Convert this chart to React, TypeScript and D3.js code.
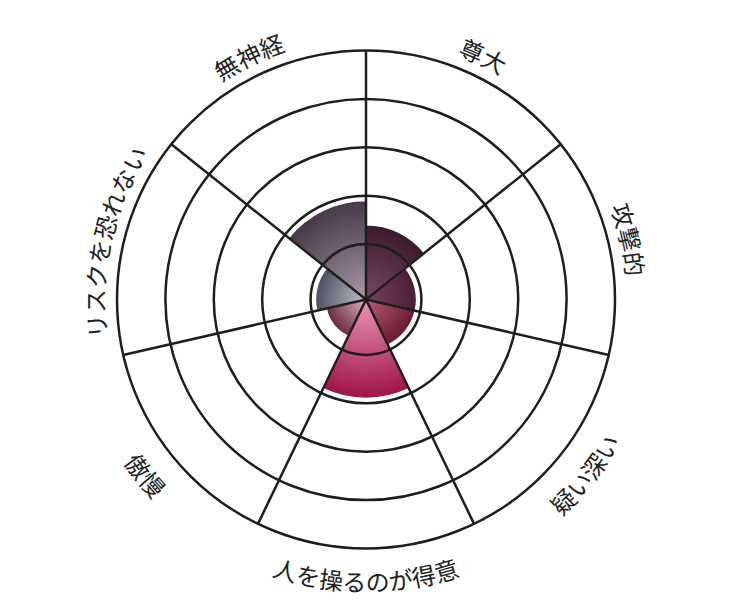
import React from 'react';
import * as d3 from 'd3';

const categories = ['尊大', '攻撃的', '疑い深い', '人を操るのが得意', '傲慢', 'リスクを恐れない', '無神経'];
const values = [1.4, 0.9, 0.9, 1.9, 0.7, 0.9, 1.9];
const innerColors = ['#7a4a66', '#7a4260', '#b45c76', '#ec96b6', '#dab2c2', '#bcc2ca', '#aa9aa8'];
const outerColors = ['#3a1a2a', '#4a1e34', '#6c1a30', '#9e1448', '#6a2a3e', '#4a5062', '#463848'];
const ringTicks = [1, 2, 3, 4, 5];

const width = 732;
const height = 600;
const cx = 366;
const cy = 299.5;

const App = () => {
  const r = d3.scaleLinear().domain([0, 5]).range([7, 249]);
  const step = (2 * Math.PI) / categories.length;
  const arc = d3.arc<number>()
    .innerRadius(0)
    .outerRadius((d) => r(values[d]))
    .startAngle((d) => d * step)
    .endAngle((d) => (d + 1) * step);

  const pt = (a: number, rad: number) => [rad * Math.sin(a), -rad * Math.cos(a)];

  // label path along the circle, flipped on the lower half so text reads upright
  const labelPath = (i: number) => {
    const a = (i + 0.5) * step;
    const s = (40 * Math.PI) / 180;
    const upper = Math.cos(a) > 0;
    const rad = upper ? 261 : 292;
    const p0 = pt(upper ? a - s : a + s, rad);
    const p1 = pt(upper ? a + s : a - s, rad);
    return `M${p0[0]},${p0[1]} A${rad},${rad} 0 0 ${upper ? 1 : 0} ${p1[0]},${p1[1]}`;
  };

  return (
    <svg width={width} height={height} style={{ position: 'absolute', left: 0, top: 0, background: '#fff' }}>
      <defs>
        {categories.map((c, i) => (
          <radialGradient key={c} id={`g${i}`} gradientUnits="userSpaceOnUse" cx={0} cy={0} r={r(values[i])}>
            <stop offset="0%" stopColor={innerColors[i]} />
            <stop offset="100%" stopColor={outerColors[i]} />
          </radialGradient>
        ))}
        {categories.map((c, i) => (
          <path key={c} id={`lp${i}`} d={labelPath(i)} fill="none" />
        ))}
      </defs>
      <g transform={`translate(${cx},${cy})`}>
        {categories.map((c, i) => (
          <path key={c} d={arc(i) as string} fill={`url(#g${i})`} stroke="#fff" strokeWidth={1.5} />
        ))}
        {ringTicks.map((t) => (
          <circle key={t} r={r(t)} fill="none" stroke="#1e1e1e" strokeWidth={2.5} />
        ))}
        {categories.map((c, i) => {
          const p = pt(i * step, r(5));
          return <line key={c} x1={0} y1={0} x2={p[0]} y2={p[1]} stroke="#1e1e1e" strokeWidth={2.5} />;
        })}
        {categories.map((c, i) => (
          <text key={c} fontFamily="'Noto Sans CJK JP', sans-serif" fontSize={24} fill="#222">
            <textPath href={`#lp${i}`} startOffset="50%" textAnchor="middle">{c}</textPath>
          </text>
        ))}
      </g>
    </svg>
  );
};

export default App;
